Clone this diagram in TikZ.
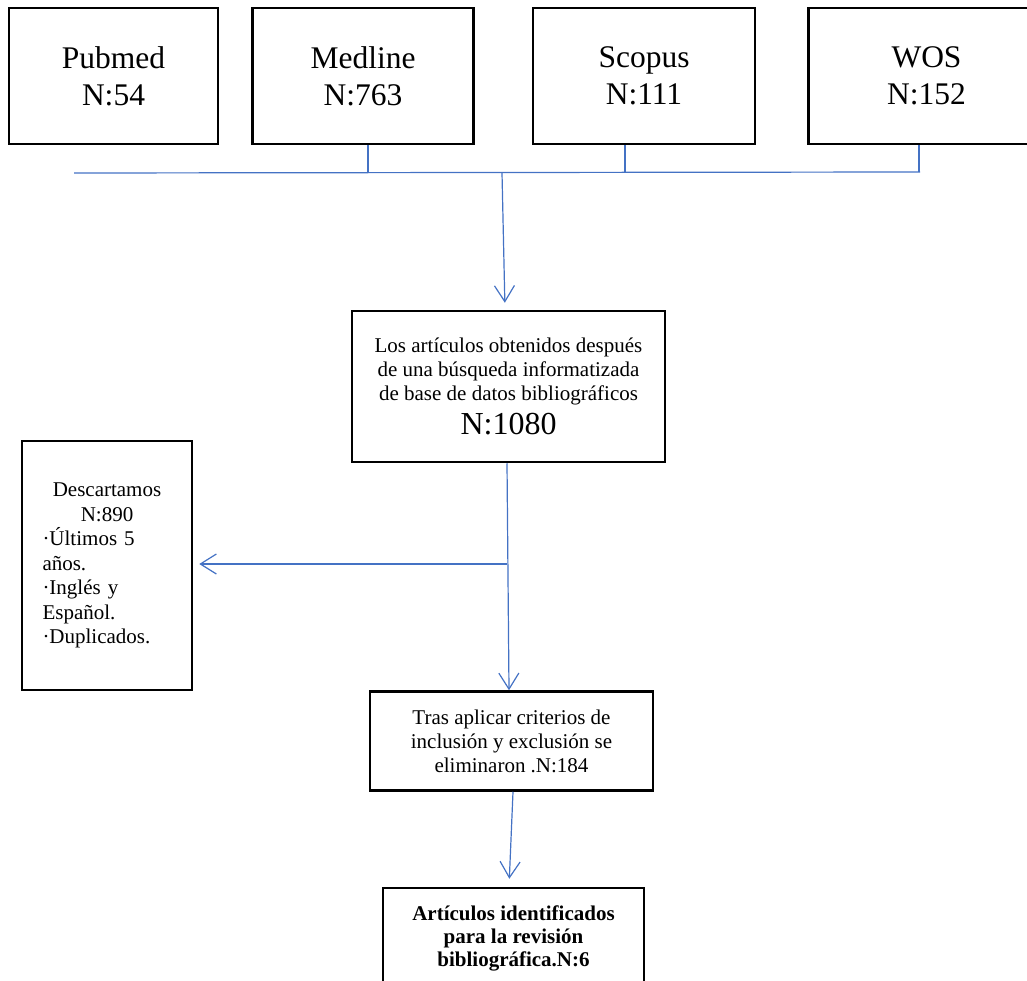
\documentclass[tikz,border=0pt]{standalone}
\usepackage{fontspec}
\setmainfont{Liberation Serif}
\usepackage{tikz}
\usetikzlibrary{positioning, arrows.meta}
\definecolor{linkblue}{RGB}{68,114,196}
\tikzstyle{source} = [rectangle, draw, line width=2.5pt, minimum height=136pt, align=center, font=\fontsize{31.5}{37}\selectfont]
\tikzstyle{stage} = [rectangle, draw, line width=2.5pt, align=center, font=\fontsize{21}{24}\selectfont]
\tikzstyle{link} = [draw=linkblue, line width=1.2pt]
\tikzstyle{arrow} = [link, -{Straight Barb[length=16pt, width=20pt, line width=1.2pt]}]

\begin{document}
\begin{tikzpicture}[x=1pt, y=-1pt]
    \useasboundingbox (0,0) rectangle (1027,981);

        % nodes
        \node (pubmed) [source, minimum width=209pt] at (113.5,76) {Pubmed\\N:54};
        \node (medline) [source, minimum width=221pt, right=32pt of pubmed] {Medline\\N:763};
        \node (scopus) [source, minimum width=222pt, right=57pt of medline] {Scopus\\N:111};
        \node (wos) [source, minimum width=224pt, right=51pt of scopus] {\hspace*{12pt}WOS\\\hspace*{12pt}N:152};
        \node (resultados) [stage, minimum width=313pt, minimum height=151pt] at (508.5,386.5) {Los artículos obtenidos después\\de una búsqueda informatizada\\de base de datos bibliográficos\\[7pt]{\fontsize{32}{34}\selectfont N:1080}};
        \node (descarte) [stage, minimum width=170pt, minimum height=249pt, text width=129pt, font=\fontsize{21}{24.5}\selectfont] at (107,565.5) {\parindent=0pt\centering Descartamos\\N:890\par\raggedright ·Últimos 5\\años.\\·Inglés y\\Español.\\·Duplicados.\par};
        \node (criterios) [stage, minimum width=283pt, minimum height=99pt, below=227pt of resultados, xshift=3pt] {Tras aplicar criterios de\\inclusión y exclusión se\\eliminaron .N:184};
        \node (revision) [stage, minimum width=261pt, minimum height=100pt, below=95pt of criterios, xshift=2pt, font=\fontsize{21}{23}\selectfont\bfseries] {Artículos identificados\\para la revisión\\bibliográfica.N:6};

        % joints on the collecting line
        \coordinate (bus_left) at (74,173);
        \coordinate (bus_right) at (920,172);
        \coordinate (join_medline) at (368,173);
        \coordinate (join_scopus) at (625,172.5);
        \coordinate (join_wos) at (919,172.5);
        \coordinate (join_main) at (502,173);
        \coordinate (branch) at (507,564);

        % edges
        \draw [link] (bus_left) -- (bus_right);
        \draw [link] (medline.south -| join_medline) -- (join_medline);
        \draw [link] (scopus.south -| join_scopus) -- (join_scopus);
        \draw [link] (wos.south -| join_wos) -- (join_wos);
        \draw [arrow, shorten >=7pt] (join_main) -- ([xshift=-3.5pt]resultados.north);
        \draw [arrow] ([xshift=-1.5pt]resultados.south) -- ([xshift=-2.5pt]criterios.north);
        \draw [arrow, shorten >=6pt] (branch) -- (branch -| descarte.east);
        \draw [arrow, shorten >=8pt] ([xshift=1.5pt]criterios.south) -- ([xshift=-4.5pt]revision.north);

    \end{tikzpicture}
\end{document}
